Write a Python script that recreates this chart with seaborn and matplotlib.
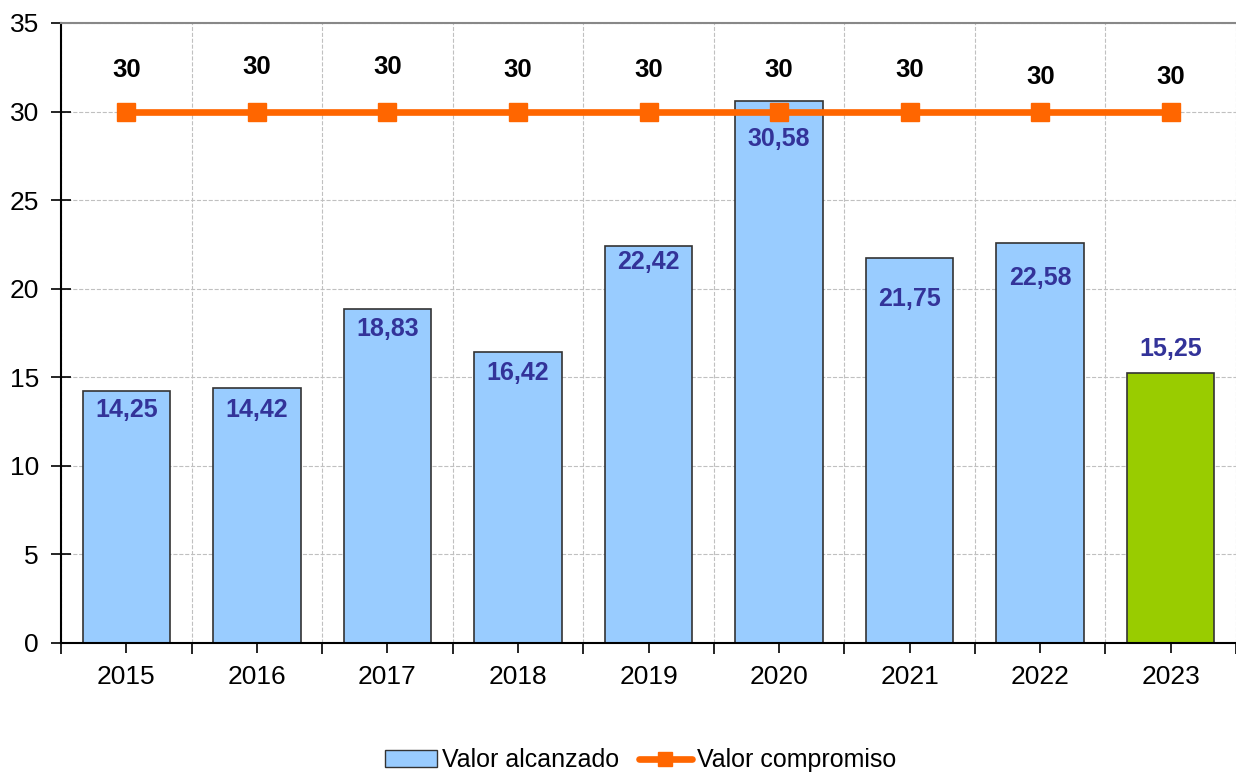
import numpy as np
import seaborn as sns
import matplotlib.pyplot as plt
from matplotlib.patches import Patch
from matplotlib.lines import Line2D
from matplotlib.ticker import MultipleLocator, FixedLocator

# Datos
anios = ["2015", "2016", "2017", "2018", "2019", "2020", "2021", "2022", "2023"]
valor_alcanzado = [14.25, 14.42, 18.83, 16.42, 22.42, 30.58, 21.75, 22.58, 15.25]
valor_compromiso = [30, 30, 30, 30, 30, 30, 30, 30, 30]
colores_barras = ["#99CCFF"] * 8 + ["#99CC00"]

# desplazamiento de las etiquetas (puntos, negativo = debajo)
desp_alcanzado = [-14, -16, -14, -15, -12, -27, -30, -25, 17]
desp_compromiso = [30, 32, 32, 30, 30, 30, 30, 25, 25]

sns.set_theme(style="white")
plt.rcParams['font.family'] = ['Liberation Sans', 'DejaVu Sans']
plt.rcParams['text.color'] = 'black'

fig = plt.figure(figsize=(12.36, 7.76), dpi=100)
ax = fig.add_axes([0.0494, 0.1714, 0.9506, 0.799])

sns.barplot(x=anios, y=valor_alcanzado, hue=anios, palette=colores_barras,
            legend=False, width=0.67, edgecolor="#333333", linewidth=1.2,
            saturation=1, ax=ax, zorder=2)

x = np.arange(len(anios))
ax.plot(x, valor_compromiso, color="#FF6600", linewidth=4.8, marker="s",
        markersize=13, zorder=4)

# Etiquetas de las barras
for i, v in enumerate(valor_alcanzado):
    txt = f"{v:.2f}".replace(".", ",")
    ax.annotate(txt, (i, v), xytext=(0, desp_alcanzado[i]), textcoords="offset points",
                ha="center", va="center", fontsize=18, fontweight="bold",
                color="#333399", zorder=5)

for i, v in enumerate(valor_compromiso):
    ax.annotate(f"{v}", (i, v), xytext=(0, desp_compromiso[i]), textcoords="offset points",
                ha="center", va="center", fontsize=18.5, fontweight="bold",
                color="black", zorder=5)

ax.set_xlim(-0.5, len(anios) - 0.5)
ax.set_ylim(0, 35)
ax.yaxis.set_major_locator(MultipleLocator(5))
ax.xaxis.set_minor_locator(FixedLocator(np.arange(-0.5, len(anios), 1.0)))

ax.grid(axis="y", which="major", linestyle="--", color="#C0C0C0", linewidth=0.8, zorder=0)
ax.grid(axis="x", which="minor", linestyle="--", color="#C0C0C0", linewidth=0.8, zorder=0)
ax.set_axisbelow(True)

ax.tick_params(axis="both", which="major", labelsize=19, direction="out",
               length=7, width=1.2, color="black", labelcolor="black")
ax.tick_params(axis="y", which="major", direction="inout", length=14, pad=9)
ax.tick_params(axis="x", which="minor", direction="out", length=8, width=1.2,
               color="black", bottom=True)
ax.tick_params(axis="x", which="major", bottom=True, pad=9)
ax.tick_params(axis="y", left=True)

ax.set_xlabel("")
ax.set_ylabel("")

for lado in ["left", "bottom"]:
    ax.spines[lado].set_color("black")
    ax.spines[lado].set_linewidth(1.5)
ax.spines["top"].set_color("#888888")
ax.spines["top"].set_linewidth(1.5)
ax.spines["right"].set_visible(False)

handles = [
    Patch(facecolor="#99CCFF", edgecolor="#333333", linewidth=1.0, label="Valor alcanzado"),
    Line2D([0], [0], color="#FF6600", linewidth=4.8, marker="s", markersize=10,
           label="Valor compromiso"),
]
fig.legend(handles=handles, loc="center", bbox_to_anchor=(0.518, 0.02), ncol=2,
           frameon=False, fontsize=18, handlelength=2.1, handleheight=0.7,
           columnspacing=0.8, handletextpad=0.2)

fig.savefig("out.png", dpi=100)
